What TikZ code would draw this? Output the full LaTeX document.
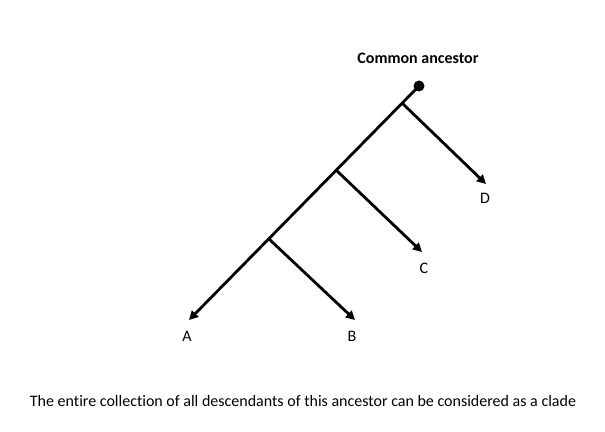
\documentclass[tikz,border=0pt]{standalone}
\usepackage{fontspec}
\setmainfont{Carlito}[Ligatures=NoCommon]
\usetikzlibrary{arrows.meta}
\begin{document}
\begin{tikzpicture}[x=1pt,y=-1pt,
  branch/.style={line width=2.8pt,-{Triangle[length=9pt,width=9pt]}},
  lbl/.style={font=\fontsize{16}{19}\selectfont,inner sep=0pt}]
\useasboundingbox (0,0) rectangle (605,431);
\fill[white] (0,0) rectangle (605,431);
% coordinates
\coordinate (root) at (419,86);
\coordinate (nd) at (402,103);
\coordinate (nc) at (336,170);
\coordinate (nb) at (269,239);
\coordinate (ta) at (189,320);
\coordinate (tb) at (355,320);
\coordinate (tc) at (422,252);
\coordinate (td) at (486,184);
% lines
\draw[branch] (root) -- (ta);
\draw[branch] (nb) -- (tb);
\draw[branch] (nc) -- (tc);
\draw[branch] (nd) -- (td);
\node[circle,fill=black,minimum size=11pt,inner sep=0pt] (dot) at (root) {};
% labels
\node[lbl,font=\fontsize{16}{19}\selectfont\bfseries] (anc) at (418,58) {Common ancestor};
\node[lbl] (la) at (187,336) {A};
\node[lbl] (lb) at (352,336) {B};
\node[lbl] (lc) at (424,268) {C};
\node[lbl] (ld) at (485,198) {D};
\node[lbl] (cap) at (303,401) {The entire collection of all descendants of this ancestor can be considered as a clade};
\end{tikzpicture}
\end{document}
